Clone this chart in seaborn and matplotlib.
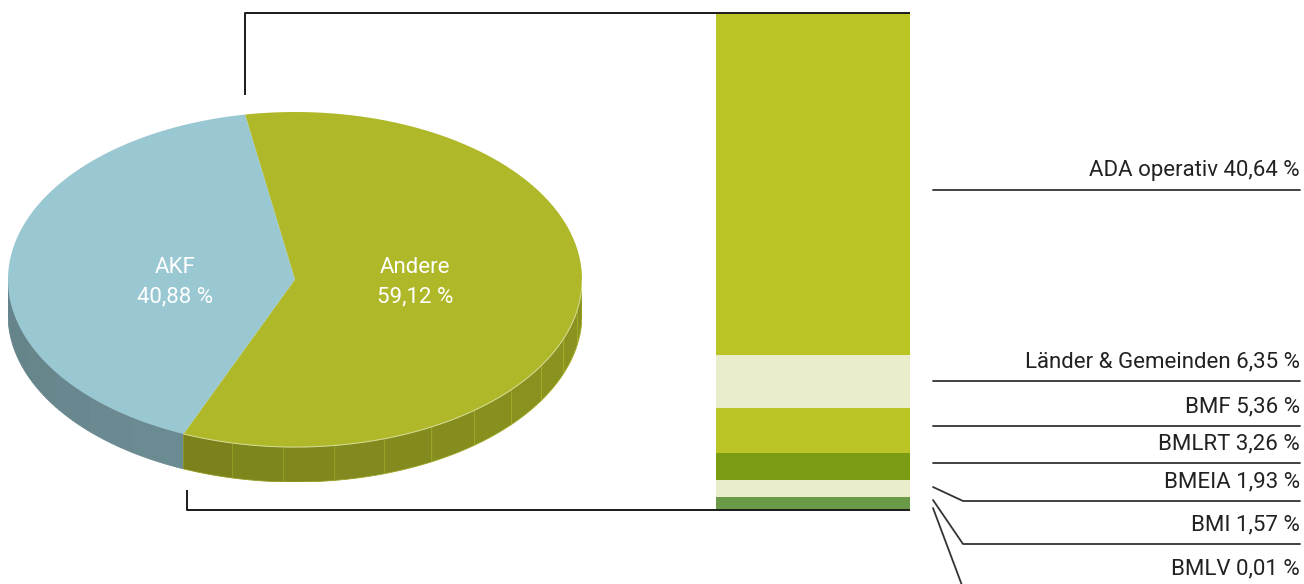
import numpy as np
import matplotlib
matplotlib.use("Agg")
import matplotlib.pyplot as plt
from matplotlib.patches import Polygon
import seaborn as sns

# === Data ===
pie_labels = ["AKF", "Andere"]
pie_values = [40.88, 59.12]
pie_colors = ["#9AC8D2", "#AEB828"]

sub_labels = ["ADA operativ", "Länder & Gemeinden", "BMF", "BMLRT", "BMEIA", "BMI", "BMLV"]
sub_values = [40.64, 6.35, 5.36, 3.26, 1.93, 1.57, 0.01]
sub_colors = ["#BBC425", "#EAEDC9", "#BBC425", "#7A9C14", "#EAEDC9", "#6A9A48", "#6A9A48"]

# === Figure ===
sns.set_theme(style="white")
plt.rcParams["font.family"] = ["Roboto", "DejaVu Sans"]
W, H = 1304, 584
fig = plt.figure(figsize=(W / 100, H / 100), dpi=100)

# === 3D-ish pie ===
tilt, depth = 0.585, 0.122
pax = fig.add_axes([8 / W, (H - 482) / H, 574 / W, 370 / H])
pax.set_xlim(-1, 1)
pax.set_ylim(-tilt - depth, tilt)
pax.axis("off")


def arc(a0, a1, n=120):
    t = np.radians(np.linspace(a0, a1, n))
    return np.cos(t), tilt * np.sin(t)


total = sum(pie_values)
start = 100.0
edges = start + 360 * np.concatenate([[0], np.cumsum(pie_values)]) / total

# side walls (front half only); facet lines + rim highlight only on the green part
for i, ((a0, a1), col) in enumerate(zip(zip(edges[:-1], edges[1:]), pie_colors)):
    for lo, hi in [(180, 360), (540, 720)]:
        s0, s1 = max(a0, lo), min(a1, hi)
        if s1 <= s0:
            continue
        steps = np.linspace(s0, s1, max(2, int((s1 - s0) / 10) + 1))
        for f0, f1 in zip(steps[:-1], steps[1:]):
            x, y = arc(f0, f1, 20)
            shade = 0.73 + 0.07 * np.cos(np.radians((f0 + f1) / 2))
            rgb = np.array(matplotlib.colors.to_rgb(col)) * shade
            pts = np.column_stack([np.r_[x, x[::-1]], np.r_[y, y[::-1] - depth]])
            ec = np.clip(rgb * 1.18, 0, 1) if i == 1 else rgb
            pax.add_patch(Polygon(pts, closed=True, facecolor=rgb,
                                  edgecolor=ec, lw=0.6, zorder=1))
        if i == 1:
            x, y = arc(s0, s1)
            pax.plot(x, y, color="#D8DC9A", lw=0.7, zorder=2.5)

# top faces
for (a0, a1), col, lab, val in zip(zip(edges[:-1], edges[1:]), pie_colors, pie_labels, pie_values):
    x, y = arc(a0, a1)
    pts = np.column_stack([np.r_[0, x], np.r_[0, y]])
    pax.add_patch(Polygon(pts, closed=True, facecolor=col, edgecolor="none", zorder=2))
    mid = np.radians((a0 + a1) / 2)
    pax.text(0.42 * np.cos(mid), -0.01,
             f"{lab}\n{val:.2f} %".replace(".", ","), color="white",
             ha="center", va="center", fontsize=16,
             linespacing=1.5, zorder=3)

# === Stacked bar for "Andere" ===
bax = fig.add_axes([716 / W, (H - 510) / H, 194 / W, 497 / H])
bottoms = np.concatenate([[0], np.cumsum(sub_values)[:-1]])
for val, b, c in zip(sub_values, bottoms, sub_colors):
    sns.barplot(x=[0], y=[val], bottom=b, color=c, width=1.0, saturation=1,
                errorbar=None, linewidth=0, ax=bax)
bax.set_xlim(-0.5, 0.5)
bax.set_ylim(sum(sub_values), 0)
bax.axis("off")

# === Overlay: frame lines and labels ===
ox = fig.add_axes([0, 0, 1, 1], zorder=5)
ox.set_xlim(0, W)
ox.set_ylim(H, 0)
ox.axis("off")
ox.patch.set_alpha(0)

frame_kw = dict(color="#1A1A1A", lw=1.4, solid_capstyle="butt")
ox.plot([245, 245, 910], [95, 13, 13], **frame_kw)
ox.plot([187, 187, 910], [490, 510, 510], **frame_kw)

line_y = [190, 381, 426, 463, 501, 544, 588]
start_y = [None, None, None, None, 487, 500, 508]
for lab, val, ly, sy in zip(sub_labels, sub_values, line_y, start_y):
    if sy is None:
        ox.plot([933, 1300], [ly, ly], color="#333333", lw=1.3)
    else:
        ox.plot([933, 963, 1300], [sy, ly, ly], color="#333333", lw=1.3)
    ox.text(1300, ly - 9, f"{lab} {val:.2f} %".replace(".", ","), ha="right", va="bottom",
            fontsize=16, color="#222222")

fig.savefig("out.png", dpi=100)
